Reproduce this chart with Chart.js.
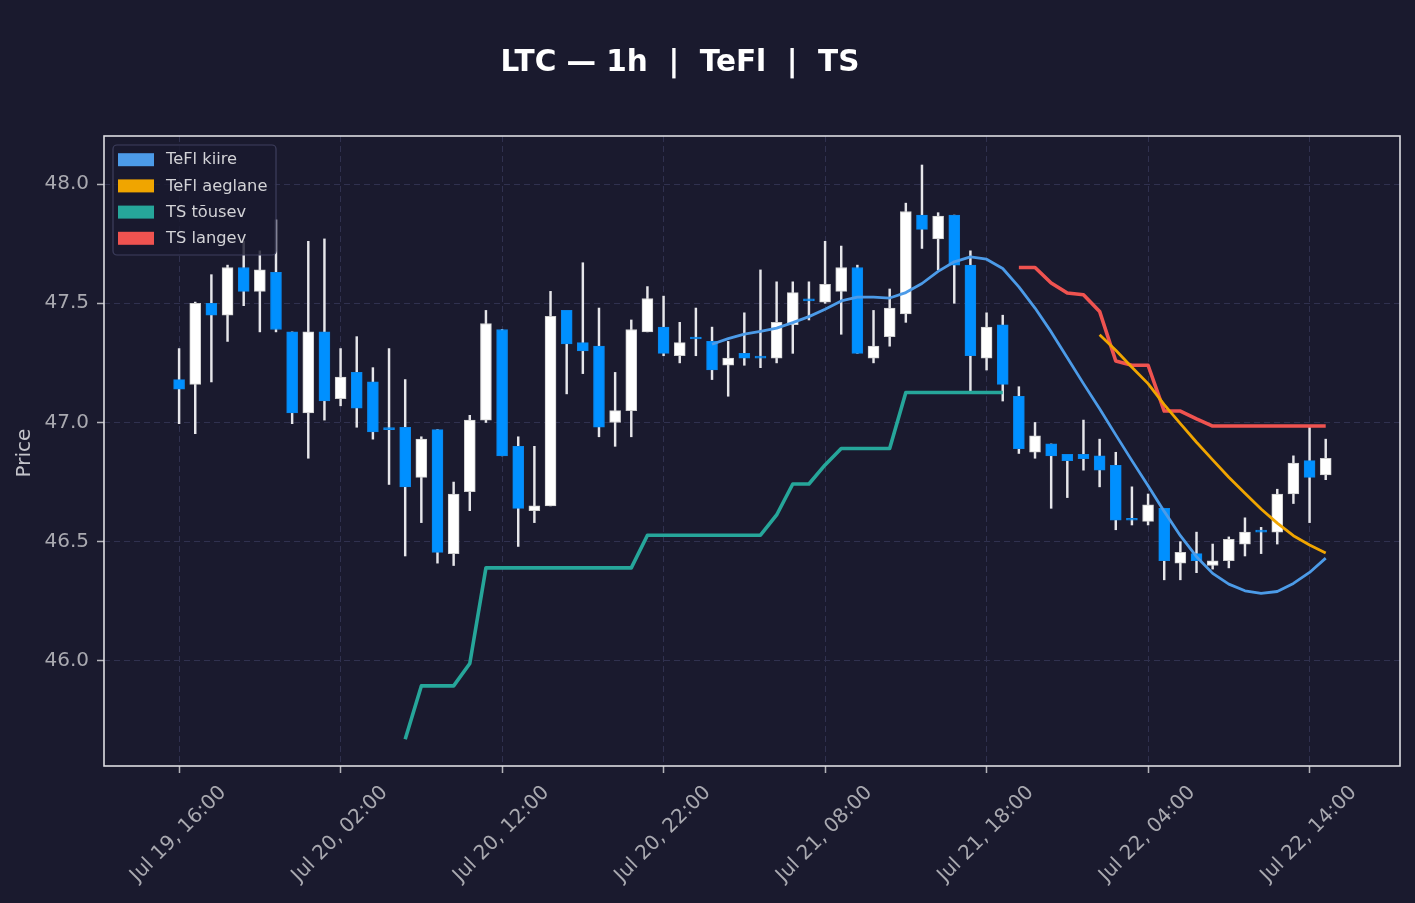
<!DOCTYPE html>
<html>
<head>
<meta charset="utf-8">
<script src="https://cdn.jsdelivr.net/npm/chart.js@4.4.1/dist/chart.umd.min.js"></script>
<style>
  html, body { margin: 0; padding: 0; background: #1a1a2e; }
  canvas { display: block; }
</style>
</head>
<body>
<canvas id="chart" width="1415" height="903"></canvas>
<script>
// ---- Data (hourly candles, hour 0 = Jul 19 16:00) ----
const TICK_HOURS  = [0, 10, 20, 30, 40, 50, 60, 70];
const TICK_LABELS = ["Jul 19, 16:00", "Jul 20, 02:00", "Jul 20, 12:00", "Jul 20, 22:00",
                     "Jul 21, 08:00", "Jul 21, 18:00", "Jul 22, 04:00", "Jul 22, 14:00"];
const Y_TICKS = [46.0, 46.5, 47.0, 47.5, 48.0];

const OPEN = [47.18, 47.16, 47.50, 47.45, 47.65, 47.55, 47.63, 47.38, 47.04, 47.38,
              47.10, 47.21, 47.17, 46.97, 46.98, 46.77, 46.97, 46.45, 46.71, 47.01,
              47.39, 46.90, 46.63, 46.65, 47.47, 47.335, 47.32, 47.00, 47.05, 47.38,
              47.40, 47.28, 47.35, 47.34, 47.24, 47.29, 47.27, 47.27, 47.41, 47.51,
              47.505, 47.55, 47.65, 47.27, 47.36, 47.455, 47.87, 47.77, 47.87, 47.66,
              47.27, 47.41, 47.11, 46.875, 46.91, 46.866, 46.866, 46.86, 46.82, 46.59,
              46.585, 46.64, 46.41, 46.45, 46.40, 46.42, 46.49, 46.54, 46.54, 46.70,
              46.84, 46.78];
const HIGH = [47.31, 47.505, 47.62, 47.66, 47.76, 47.72, 47.85, 47.38, 47.76, 47.77,
              47.31, 47.36, 47.23, 47.31, 47.18, 46.94, 46.97, 46.75, 47.03, 47.47,
              47.39, 46.94, 46.90, 47.55, 47.47, 47.67, 47.48, 47.21, 47.43, 47.57,
              47.53, 47.42, 47.48, 47.40, 47.34, 47.46, 47.64, 47.59, 47.59, 47.59,
              47.76, 47.74, 47.66, 47.47, 47.56, 47.92, 48.08, 47.88, 47.87, 47.72,
              47.46, 47.45, 47.15, 47.00, 46.91, 46.866, 47.01, 46.93, 46.875, 46.73,
              46.70, 46.64, 46.50, 46.54, 46.49, 46.52, 46.60, 46.56, 46.72, 46.86,
              46.98, 46.93];
const LOW  = [46.995, 46.953, 47.17, 47.34, 47.49, 47.38, 47.38, 46.995, 46.85, 47.01,
              47.07, 46.98, 46.93, 46.74, 46.44, 46.58, 46.41, 46.40, 46.63, 47.00,
              46.86, 46.48, 46.58, 46.65, 47.12, 47.205, 46.94, 46.90, 46.94, 47.38,
              47.28, 47.25, 47.28, 47.18, 47.11, 47.24, 47.23, 47.25, 47.29, 47.43,
              47.50, 47.37, 47.29, 47.25, 47.32, 47.42, 47.73, 47.64, 47.50, 47.13,
              47.22, 47.09, 46.87, 46.85, 46.64, 46.685, 46.80, 46.73, 46.55, 46.57,
              46.57, 46.34, 46.34, 46.37, 46.385, 46.39, 46.44, 46.45, 46.49, 46.66,
              46.58, 46.76];
const CLOSE = [47.14, 47.50, 47.45, 47.65, 47.55, 47.64, 47.39, 47.04, 47.38, 47.09,
              47.19, 47.06, 46.96, 46.97, 46.73, 46.93, 46.455, 46.70, 47.01, 47.415,
              46.86, 46.64, 46.65, 47.445, 47.33, 47.30, 46.98, 47.05, 47.39, 47.52,
              47.29, 47.335, 47.35, 47.22, 47.27, 47.27, 47.27, 47.42, 47.545, 47.51,
              47.58, 47.65, 47.29, 47.32, 47.48, 47.885, 47.81, 47.866, 47.66, 47.28,
              47.40, 47.16, 46.89, 46.944, 46.86, 46.84, 46.848, 46.80, 46.59, 46.59,
              46.655, 46.42, 46.455, 46.42, 46.42, 46.51, 46.54, 46.54, 46.70, 46.83,
              46.77, 46.85];

// Indicator series: start hour + values
const TEFL_FAST_START = 33;
const TEFL_FAST = [47.328, 47.352, 47.371, 47.382, 47.396, 47.419, 47.444, 47.475, 47.51, 47.526,
                   47.526, 47.522, 47.545, 47.583, 47.634, 47.674, 47.695, 47.685, 47.646, 47.569,
                   47.48, 47.38, 47.272, 47.163, 47.058, 46.948, 46.84, 46.735, 46.627, 46.525,
                   46.437, 46.367, 46.322, 46.294, 46.283, 46.291, 46.325, 46.371, 46.431];
const TEFL_SLOW_START = 57;
const TEFL_SLOW = [47.368, 47.303, 47.232, 47.163, 47.075, 46.995, 46.917, 46.843, 46.77, 46.703,
                   46.637, 46.578, 46.525, 46.486, 46.452];
const TS_UP_START = 14;
const TS_UP = [45.671, 45.895, 45.895, 45.895, 45.989, 46.39, 46.39, 46.39, 46.39, 46.39,
               46.39, 46.39, 46.39, 46.39, 46.39, 46.527, 46.527, 46.527, 46.527, 46.527,
               46.527, 46.527, 46.527, 46.612, 46.742, 46.742, 46.822, 46.891, 46.891, 46.891,
               46.891, 47.126, 47.126, 47.126, 47.126, 47.126, 47.126, 47.126];
const TS_DOWN_START = 52;
const TS_DOWN = [47.65, 47.65, 47.585, 47.543, 47.536, 47.466, 47.258, 47.24, 47.24, 47.048,
                 47.048, 47.015, 46.985, 46.985, 46.985, 46.985, 46.985, 46.985, 46.985, 46.985];

// ---- Styles ----
const BG = '#1a1a2e';
const UP_COLOR = '#ffffff', UP_EDGE = '#cfcfcf';
const DOWN_COLOR = '#0090ff', DOWN_EDGE = '#0a86ea';
const WICK_COLOR = '#e6e6ea';
const TICK_TEXT = '#a9a9b0';
const GRID = '#30314f';

Chart.defaults.font.family = "'DejaVu Sans', sans-serif";

const series = (start, vals) => vals.map((v, k) => ({ x: start + k, y: v }));
const isUp = i => CLOSE[i] > OPEN[i];

const bodies = OPEN.map((o, i) => ({ x: i, y: [o, CLOSE[i]] }));
const wicks = HIGH.map((h, i) => ({ x: i, y: [LOW[i], h] }));

const lineDatasets = [
  { label: 'TeFl kiire', data: series(TEFL_FAST_START, TEFL_FAST), color: '#4c9be8', width: 2.8 },
  { label: 'TeFl aeglane', data: series(TEFL_SLOW_START, TEFL_SLOW), color: '#f0a500', width: 2.8 },
  { label: 'TS tõusev', data: series(TS_UP_START, TS_UP), color: '#26a69a', width: 3.6 },
  { label: 'TS langev', data: series(TS_DOWN_START, TS_DOWN), color: '#ef5350', width: 3.6 },
].map(d => ({
  type: 'line', label: d.label, data: d.data, borderColor: d.color, backgroundColor: d.color,
  borderWidth: d.width, pointRadius: 0, tension: 0, fill: false, order: 0,
  borderJoinStyle: 'round', borderCapStyle: 'butt', isIndicator: true
}));

const framePlugin = {
  id: 'frameAndText',
  beforeDraw(chart) {
    const ctx = chart.ctx;
    ctx.save();
    ctx.fillStyle = BG;
    ctx.fillRect(0, 0, chart.width, chart.height);
    ctx.restore();
  },
  afterDraw(chart) {
    const ctx = chart.ctx, a = chart.chartArea;
    ctx.save();
    // frame
    ctx.strokeStyle = '#dcdce2';
    ctx.lineWidth = 1.6;
    ctx.strokeRect(a.left, a.top, a.right - a.left, a.bottom - a.top);
    // legend
    const lx = 113, ly = 145, lw = 163, lh = 110;
    ctx.fillStyle = 'rgba(26,26,46,0.82)';
    ctx.strokeStyle = '#3e3f5e';
    ctx.lineWidth = 1.2;
    ctx.beginPath();
    ctx.roundRect(lx, ly, lw, lh, 4);
    ctx.fill();
    ctx.stroke();
    ctx.font = "16.3px 'DejaVu Sans'";
    ctx.textBaseline = 'middle';
    ctx.textAlign = 'left';
    chart.data.datasets.filter(d => d.isIndicator).forEach((d, k) => {
      const cy = 159.7 + k * 26.2;
      ctx.fillStyle = d.borderColor;
      ctx.fillRect(118, cy - 6.5, 36, 13);
      ctx.fillStyle = '#d2d2d6';
      ctx.fillText(d.label, 166, cy + 0.5);
    });
    // title
    ctx.fillStyle = '#ffffff';
    ctx.font = "bold 29.5px 'DejaVu Sans'";
    ctx.textAlign = 'center';
    ctx.textBaseline = 'middle';
    ctx.fillText('LTC — 1h  |  TeFl  |  TS', 680, 63);
    // y axis title
    ctx.save();
    ctx.translate(25, (a.top + a.bottom) / 2 + 2);
    ctx.rotate(-Math.PI / 2);
    ctx.font = "20px 'DejaVu Sans'";
    ctx.fillStyle = '#c4c4ca';
    ctx.textAlign = 'center';
    ctx.textBaseline = 'middle';
    ctx.fillText('Price', 0, 0);
    ctx.restore();
    ctx.restore();
  }
};

new Chart(document.getElementById('chart'), {
  type: 'bar',
  data: {
    datasets: [
      ...lineDatasets,
      {
        type: 'bar', label: 'body', data: bodies, order: 1, grouped: false,
        barThickness: 11, maxBarThickness: 11, minBarLength: 2,
        backgroundColor: OPEN.map((o, i) => isUp(i) ? UP_COLOR : DOWN_COLOR),
        borderColor: OPEN.map((o, i) => isUp(i) ? UP_EDGE : DOWN_EDGE),
        borderWidth: 1, borderSkipped: false
      },
      {
        type: 'bar', label: 'wick', data: wicks, order: 2, grouped: false,
        barThickness: 1.8, maxBarThickness: 1.8,
        backgroundColor: WICK_COLOR, borderWidth: 0, borderSkipped: false
      }
    ]
  },
  options: {
    responsive: false,
    animation: false,
    devicePixelRatio: 1,
    layout: { padding: { left: 0, right: 15, top: 136, bottom: 0 } },
    plugins: { legend: { display: false }, tooltip: { enabled: false }, title: { display: false } },
    scales: {
      x: {
        type: 'linear', min: -4.65, max: 75.6, offset: false,
        afterBuildTicks: s => { s.ticks = TICK_HOURS.map(v => ({ value: v })); },
        afterFit: s => { s.height = 137; },
        grid: { offset: false, color: GRID, lineWidth: 1, tickColor: '#b4b4ba', tickLength: 7, tickWidth: 1.5 },
        border: { display: false, dash: [6, 4] },
        ticks: {
          autoSkip: false, minRotation: 45, maxRotation: 45, labelOffset: 44, padding: 8,
          color: TICK_TEXT, font: { size: 20 },
          callback: v => { const k = TICK_HOURS.indexOf(v); return k >= 0 ? TICK_LABELS[k] : ''; }
        }
      },
      y: {
        type: 'linear', min: 45.559, max: 48.2017, beginAtZero: false,
        afterBuildTicks: s => { s.ticks = Y_TICKS.map(v => ({ value: v })); },
        afterFit: s => { s.width = 104; },
        grid: { color: GRID, lineWidth: 1, tickColor: '#b4b4ba', tickLength: 7, tickWidth: 1.5 },
        border: { display: false, dash: [6, 4] },
        ticks: { color: TICK_TEXT, font: { size: 20 }, padding: 8, callback: v => Number(v).toFixed(1) }
      }
    }
  },
  plugins: [framePlugin]
});
</script>
</body>
</html>
